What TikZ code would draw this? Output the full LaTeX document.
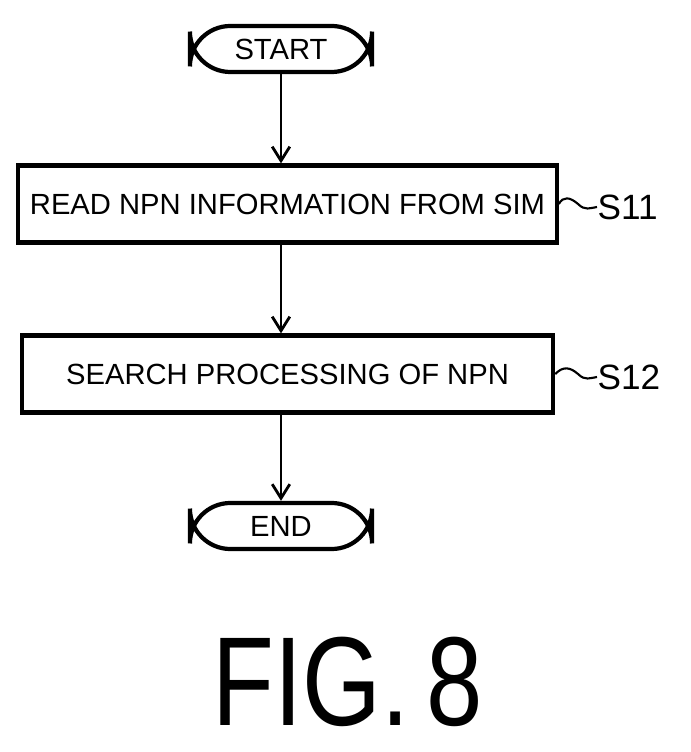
\documentclass[tikz,border=0pt]{standalone}
\usepackage{fontspec}
\setmainfont{Liberation Sans}
\usetikzlibrary{positioning,arrows.meta}
\tikzstyle{term}=[draw,line width=1.2pt,rounded corners=11.5pt,minimum width=1.82cm,minimum height=0.46cm,font=\fontsize{8.3}{9}\selectfont]
\tikzstyle{process}=[draw,line width=1.2pt,minimum width=5.31cm,minimum height=0.77cm,font=\fontsize{8.3}{9}\selectfont]
\tikzstyle{flow}=[line width=0.8pt,-{Straight Barb[length=4pt,width=5pt]}]
\tikzstyle{tag}=[font=\fontsize{10}{11}\selectfont,inner sep=0pt,anchor=west]
\begin{document}
\begin{tikzpicture}[x=0.01cm,y=-0.01cm]
	\useasboundingbox (0,0) rectangle (690,752);
	\node[term] (start) at (281,49) {START};
	\node[process] (s11) at (287.5,204) {READ NPN INFORMATION FROM SIM};
	\node[process] (s12) at (287.5,374) {SEARCH PROCESSING OF NPN};
	\node[term] (end) at (281,526) {END};
	\draw[flow] (start) -- (start|-s11.north);
	\draw[flow] (s11.south-|start) -- (start|-s12.north);
	\draw[flow] (s12.south-|start) -- (end);
	% step labels
	\node[tag] (l11) at (597,207) {S11};
	\node[tag] (l12) at (597,377) {S12};
	\draw[line width=0.6pt] (s11.east) .. controls (563,196) and (570,197) .. (578,204) .. controls (585,211) and (590,208) .. (l11.west);
	\draw[line width=0.6pt] (s12.east) .. controls (563,366) and (570,367) .. (578,374) .. controls (585,381) and (590,378) .. (l12.west);
	\node[font=\fontsize{36}{40}\selectfont] (fig) at (348,682) {\scalebox{0.8}[1]{FIG.\,8}};
\end{tikzpicture}
\end{document}
